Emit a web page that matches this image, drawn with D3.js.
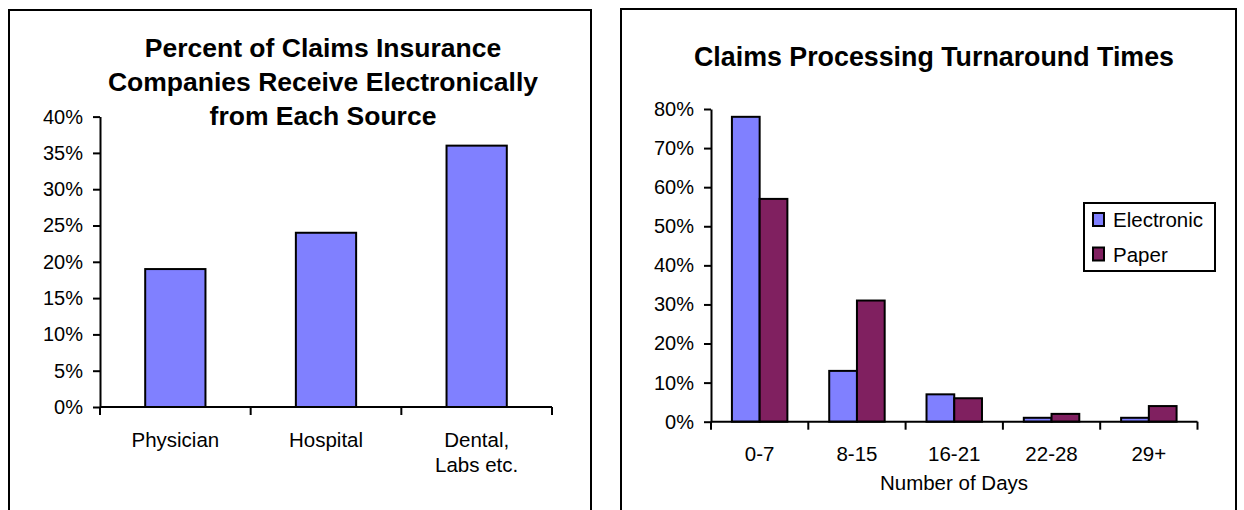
<!DOCTYPE html>
<html>
<head>
<meta charset="utf-8">
<script src="https://cdn.jsdelivr.net/npm/d3@7"></script>
<style>
  body { margin: 0; background: #fff; }
  svg { display: block; font-family: "Liberation Sans", Arial, sans-serif; }
</style>
</head>
<body>
<svg id="svg" width="1244" height="510"></svg>
<script>
// left chart data
const sources = ["Physician", "Hospital", "Dental,\nLabs etc."];
const sourceShare = [0.19, 0.24, 0.36];
const leftTicks = [0, 0.05, 0.10, 0.15, 0.20, 0.25, 0.30, 0.35, 0.40];

// right chart data
const dayBins = ["0-7", "8-15", "16-21", "22-28", "29+"];
const seriesNames = ["Electronic", "Paper"];
const electronic = [0.78, 0.13, 0.07, 0.01, 0.01];
const paper = [0.57, 0.31, 0.06, 0.02, 0.04];
const rightTicks = [0, 0.1, 0.2, 0.3, 0.4, 0.5, 0.6, 0.7, 0.8];

const colors = ["#8080ff", "#802060"];
const pct = d3.format(".0%");
const svg = d3.select("#svg");

// panel frames
svg.append("rect").attr("x", 9).attr("y", 10).attr("width", 582).attr("height", 520)
    .attr("fill", "none").attr("stroke", "#000").attr("stroke-width", 2);
svg.append("rect").attr("x", 621).attr("y", 9).attr("width", 615).attr("height", 520)
    .attr("fill", "none").attr("stroke", "#000").attr("stroke-width", 2);

function yAxis(g, y, ticks) {
    g.call(d3.axisLeft(y).tickValues(ticks).tickFormat(pct).tickSize(7).tickPadding(10).tickSizeOuter(0));
    g.select(".domain").attr("stroke-width", 2);
    g.selectAll(".tick line").attr("stroke-width", 2);
    g.selectAll("text").attr("font-size", 20).attr("fill", "#000").attr("font-family", "Liberation Sans, Arial, sans-serif");
}

function xBaseline(g, x, y0) {
    const [a, b] = x.range();
    g.append("line").attr("x1", a).attr("x2", b).attr("y1", y0).attr("y2", y0)
        .attr("stroke", "#000").attr("stroke-width", 2);
    const edges = x.domain().map(d => x(d) - x.step() * x.paddingOuter()).concat([b]);
    g.selectAll("line.tk").data(edges).join("line").attr("class", "tk")
        .attr("x1", d => d).attr("x2", d => d).attr("y1", y0).attr("y2", y0 + 8)
        .attr("stroke", "#000").attr("stroke-width", 2);
}

// ---------- left chart ----------
{
    const x = d3.scaleBand().domain(sources).range([100, 552]).paddingInner(0.6).paddingOuter(0.3);
    const y = d3.scaleLinear().domain([0, 0.4]).range([407, 116.6]);
    const g = svg.append("g");

    g.append("text").attr("x", 323).attr("y", 57).attr("text-anchor", "middle")
        .attr("font-size", 26.5).attr("font-weight", "bold")
        .selectAll("tspan")
        .data(["Percent of Claims Insurance", "Companies Receive Electronically", "from Each Source"])
        .join("tspan").attr("x", 323).attr("dy", (d, i) => i ? 34 : 0).text(d => d);

    g.selectAll("rect.bar").data(sources).join("rect").attr("class", "bar")
        .attr("x", d => x(d)).attr("width", x.bandwidth())
        .attr("y", (d, i) => y(sourceShare[i])).attr("height", (d, i) => y(0) - y(sourceShare[i]))
        .attr("fill", colors[0]).attr("stroke", "#000").attr("stroke-width", 2);

    g.append("g").attr("transform", "translate(100,0)").call(yAxis, y, leftTicks);
    xBaseline(g, x, 407);

    g.selectAll("text.cat").data(sources).join("text").attr("class", "cat")
        .attr("text-anchor", "middle").attr("font-size", 20.5)
        .attr("y", 447)
        .each(function (d) {
            const cx = x(d) + x.bandwidth() / 2;
            d3.select(this).selectAll("tspan").data(d.split("\n")).join("tspan")
                .attr("x", cx).attr("dy", (t, i) => i ? 24.5 : 0).text(t => t);
        });
}

// ---------- right chart ----------
{
    const x = d3.scaleBand().domain(dayBins).range([711, 1197.5]).paddingInner(0.43).paddingOuter(0.215);
    const xs = d3.scaleBand().domain(seriesNames).range([0, x.bandwidth()]);
    const y = d3.scaleLinear().domain([0, 0.8]).range([421.7, 109]);
    const values = [electronic, paper];
    const g = svg.append("g");

    g.append("text").attr("x", 934).attr("y", 66).attr("text-anchor", "middle")
        .attr("font-size", 26.8).attr("font-weight", "bold")
        .text("Claims Processing Turnaround Times");

    const grp = g.selectAll("g.bin").data(dayBins).join("g").attr("class", "bin")
        .attr("transform", d => `translate(${x(d)},0)`);
    grp.selectAll("rect").data((d, i) => seriesNames.map((s, k) => ({ s, k, v: values[k][i] })))
        .join("rect")
        .attr("x", d => xs(d.s)).attr("width", xs.bandwidth())
        .attr("y", d => y(d.v)).attr("height", d => y(0) - y(d.v))
        .attr("fill", d => colors[d.k]).attr("stroke", "#000").attr("stroke-width", 2);

    g.append("g").attr("transform", "translate(711,0)").call(yAxis, y, rightTicks);
    xBaseline(g, x, 421.7);

    g.selectAll("text.cat").data(dayBins).join("text").attr("class", "cat")
        .attr("text-anchor", "middle").attr("font-size", 20.5)
        .attr("x", d => x(d) + x.bandwidth() / 2).attr("y", 460.5).text(d => d);

    g.append("text").attr("x", 954).attr("y", 490).attr("text-anchor", "middle")
        .attr("font-size", 20.5).text("Number of Days");

    // legend
    const lg = g.append("g").attr("transform", "translate(1084,203)");
    lg.append("rect").attr("width", 131).attr("height", 68)
        .attr("fill", "#fff").attr("stroke", "#000").attr("stroke-width", 2);
    const it = lg.selectAll("g.item").data(seriesNames).join("g").attr("class", "item")
        .attr("transform", (d, i) => `translate(9,${10 + i * 34.5})`);
    it.append("rect").attr("width", 11).attr("height", 13)
        .attr("fill", (d, i) => colors[i]).attr("stroke", "#000").attr("stroke-width", 2);
    it.append("text").attr("x", 20).attr("y", 14).attr("font-size", 20.5).text(d => d);
}
</script>
</body>
</html>
